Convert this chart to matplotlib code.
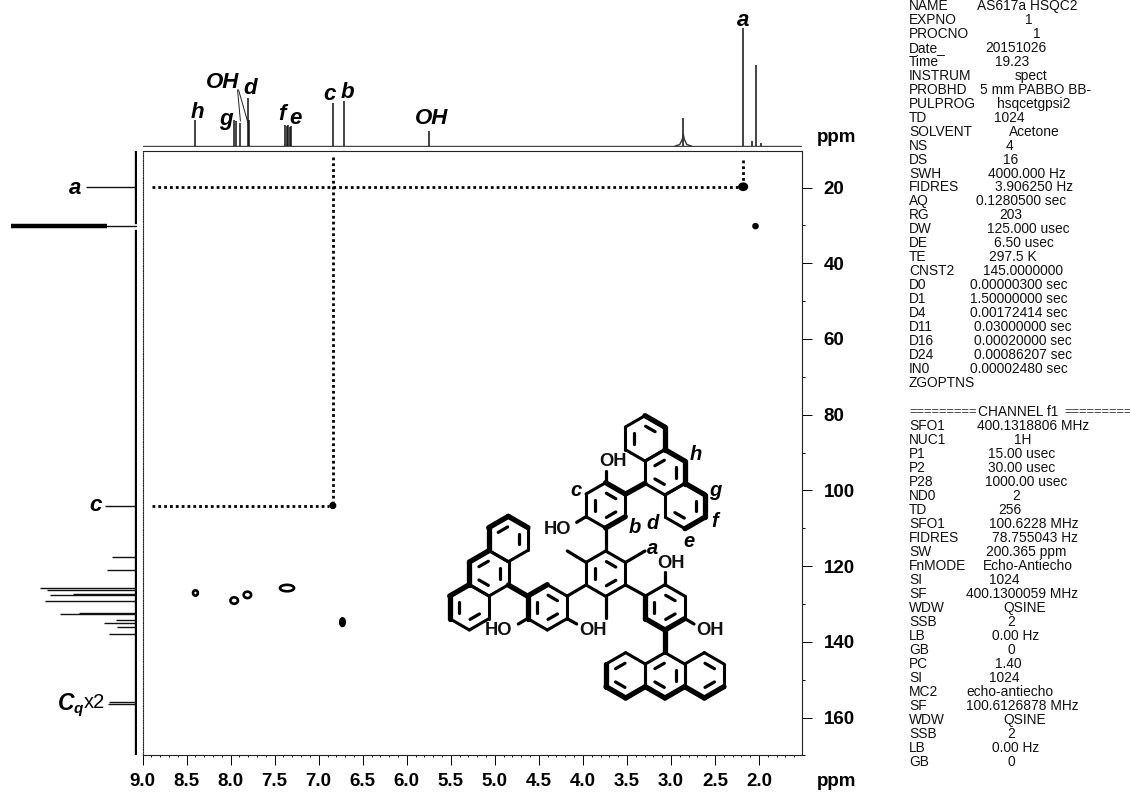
import numpy as np
import matplotlib
matplotlib.use("Agg")
import matplotlib.pyplot as plt
from matplotlib.patches import Ellipse
from matplotlib.ticker import MultipleLocator, FixedLocator

plt.rcParams['font.family'] = ['Liberation Sans', 'DejaVu Sans']

W, H = 1130, 792
# ---------- data ----------
h1_ppm = [8.405, 7.96, 7.94, 7.89, 7.80, 7.79, 7.38, 7.36, 7.35, 7.33, 7.31, 6.84, 6.71, 5.75, 2.86, 2.18, 2.08, 2.03, 1.98]
h1_int = [26, 26, 25, 23, 48, 26, 21, 20, 21, 19, 20, 43, 45, 15, 28, 118, 5, 81, 3]
broad_ppm = [2.95, 2.90, 2.87, 2.86, 2.85, 2.82, 2.77]
broad_int = [0, 1.5, 7, 12, 7, 1.5, 0]
c13_ppm = [19.8, 30.2, 104.0, 117.7, 121.0, 125.9, 126.3, 127.4, 127.6, 129.2, 132.3, 132.7, 134.2, 135.1, 136.1, 137.9, 155.8, 156.5]
c13_int = [51, 126, 32, 25, 30, 97, 90, 64, 87, 92, 58, 77, 21, 33, 20, 28, 28, 29]
xticks_major = [9.0, 8.5, 8.0, 7.5, 7.0, 6.5, 6.0, 5.5, 5.0, 4.5, 4.0, 3.5, 3.0, 2.5, 2.0]
yticks_major = [20, 40, 60, 80, 100, 120, 140, 160]
cross_f2 = [2.18, 2.04, 6.84, 8.40, 7.96, 7.81, 7.36, 6.73]
cross_f1 = [19.8, 30.2, 104.0, 127.1, 129.1, 127.6, 125.8, 134.8]
cross_w = [0.085, 0.045, 0.05, 0.055, 0.085, 0.085, 0.16, 0.05]
cross_h = [1.6, 1.0, 1.2, 1.4, 1.7, 1.7, 1.7, 2.0]
cross_filled = [True, True, True, False, False, False, False, True]

params_a = [
    ("NAME", "AS617a HSQC2", 977), ("EXPNO", "1", 1025), ("PROCNO", "1", 1033),
    ("Date_", "20151026", 985), ("Time", "19.23", 995), ("INSTRUM", "spect", 1015),
    ("PROBHD", "5 mm PABBO BB-", 980), ("PULPROG", "hsqcetgpsi2", 997), ("TD", "1024", 994),
    ("SOLVENT", "Acetone", 1009), ("NS", "4", 1006), ("DS", "16", 1003),
    ("SWH", "4000.000 Hz", 988), ("FIDRES", "3.906250 Hz", 995), ("AQ", "0.1280500 sec", 976),
    ("RG", "203", 999), ("DW", "125.000 usec", 987), ("DE", "6.50 usec", 994),
    ("TE", "297.5 K", 989), ("CNST2", "145.0000000", 983), ("D0", "0.00000300 sec", 970),
    ("D1", "1.50000000 sec", 970), ("D4", "0.00172414 sec", 970), ("D11", "0.03000000 sec", 974),
    ("D16", "0.00020000 sec", 974), ("D24", "0.00086207 sec", 974), ("IN0", "0.00002480 sec", 970),
    ("ZGOPTNS", "", 970)]
params_b = [
    ("SFO1", "400.1318806 MHz", 977), ("NUC1", "1H", 1014), ("P1", "15.00 usec", 988),
    ("P2", "30.00 usec", 988), ("P28", "1000.00 usec", 985), ("ND0", "2", 1012),
    ("TD", "256", 998), ("SFO1", "100.6228 MHz", 989), ("FIDRES", "78.755043 Hz", 992),
    ("SW", "200.365 ppm", 986), ("FnMODE", "Echo-Antiecho", 983), ("SI", "1024", 989),
    ("SF", "400.1300059 MHz", 966), ("WDW", "QSINE", 1003), ("SSB", "2", 1007),
    ("LB", "0.00 Hz", 992), ("GB", "0", 1007), ("PC", "1.40", 995), ("SI", "1024", 989),
    ("MC2", "echo-antiecho", 966), ("SF", "100.6126878 MHz", 966), ("WDW", "QSINE", 1003),
    ("SSB", "2", 1007), ("LB", "0.00 Hz", 992), ("GB", "0", 1007)]

# ---------- layout ----------
def add_axes(fig, l, t, r, b, **kw):
    return fig.add_axes([l / W, 1 - b / H, (r - l) / W, (b - t) / H], **kw)

fig = plt.figure(figsize=(W / 100, H / 100), dpi=100, facecolor='white')
XL, XR = 142.6, 802.0
YT, YB = 151.0, 755.4
xlim = (9.0, 9.0 - (XR - XL) / 88.06)
ylim = (170, 20 - (187.5 - YT) / 3.786)

ax = add_axes(fig, XL, YT, XR, YB)
ax.set_xlim(*xlim); ax.set_ylim(*ylim)
for s in ax.spines.values():
    s.set_linewidth(0.8); s.set_color('#222222')
ax.xaxis.set_major_locator(FixedLocator(xticks_major))
ax.xaxis.set_minor_locator(MultipleLocator(0.1))
ax.set_xticklabels([f"{v:.1f}" for v in xticks_major], fontweight='bold', fontsize=13.5)
ax.tick_params(axis='x', which='major', length=7.5, width=0.7, pad=5.5)
ax.tick_params(axis='x', which='minor', length=1.6, width=0.7)
ax.yaxis.tick_right()
ax.yaxis.set_major_locator(FixedLocator(yticks_major))
ax.yaxis.set_minor_locator(MultipleLocator(10))
ax.set_yticklabels([str(v) for v in yticks_major], fontweight='bold', fontsize=13.5)
ax.tick_params(axis='y', which='major', length=7.0, width=0.7, pad=8.5)
ax.tick_params(axis='y', which='minor', length=2.2, width=0.7)
ax.spines['left'].set_linestyle((0, (1, 1.2)))

# dotted correlation guides
dot = dict(color='black', lw=2.0, linestyle=(0, (1, 1.1)))
ax.plot([8.89, 2.24], [19.8, 19.8], **dot)
ax.plot([8.89, 6.88], [104.0, 104.0], **dot)
ax.plot([6.84, 6.84], [11.9, 103], **dot)
ax.plot([2.18, 2.18], [12.7, 19], **dot)

# cross peaks
for x, y, w, h, f in zip(cross_f2, cross_f1, cross_w, cross_h, cross_filled):
    ax.add_patch(Ellipse((x, y), w, h, fc='black' if f else 'white', ec='black', lw=1.9))

# 1D proton trace
ax1 = add_axes(fig, XL, 20, XR, 147)
ax1.set_xlim(*xlim); ax1.set_ylim(-1, 126); ax1.axis('off')
ax1.plot(xlim, [0, 0], color='#444444', lw=1.0)
ax1.vlines(h1_ppm, 0, h1_int, color='#111111', lw=1.1)
ax1.plot(broad_ppm, broad_int, color='#333333', lw=1.0)

# 1D carbon trace
ax2 = add_axes(fig, 0, YT, 136.5, YB)
ax2.set_xlim(136.5, 0); ax2.set_ylim(*ylim); ax2.axis('off')
ax2.plot([0.8, 0.8], [ylim[1], 29.0], color='black', lw=2.4)
ax2.plot([0.8, 0.8], [31.6, 170], color='black', lw=2.4)
ax2.hlines(c13_ppm, 0, c13_int, color='#111111', lw=1.0)
ax2.hlines([30.2], 30, 126, color='black', lw=3.2)

# overlay in pixel space for labels and structure
ov = add_axes(fig, 0, 0, W, H)
ov.set_xlim(0, W); ov.set_ylim(H, 0); ov.axis('off'); ov.patch.set_alpha(0)

lab = dict(fontweight='bold', fontstyle='italic', ha='center', va='center', fontsize=16, color='black')
top_labels = [("h", 197, 112), ("g", 226, 119), ("OH", 222.6, 82), ("d", 250, 89), ("f", 282, 115),
              ("e", 296, 118), ("c", 330, 94), ("b", 347, 93), ("OH", 432, 118), ("a", 743, 21)]
for t, x, y in top_labels:
    ov.text(x, y, t, **lab)
ov.plot([237.6, 240.4], [90, 121], color='#222222', lw=0.7)
ov.plot([238.6, 248], [90, 123], color='#222222', lw=0.7)
ov.text(836.6, 138, "ppm", fontweight='bold', fontsize=13.5, ha='center', va='center')
ov.text(836.6, 781, "ppm", fontweight='bold', fontsize=13.5, ha='center', va='center')
ov.text(75, 188, "a", **lab)
ov.text(95, 505.5, "c", **lab)
ov.text(58, 703, "C", fontweight='bold', fontstyle='italic', fontsize=16.5, ha='left', va='center')
ov.text(74, 709, "q", fontweight='bold', fontstyle='italic', fontsize=11, ha='left', va='center')
ov.text(84, 702, "x2", fontsize=14.5, ha='left', va='center')

# acquisition parameters
pf = dict(fontsize=9.9, va='center', ha='left', color='#111111')
for i, (k, v, x) in enumerate(params_a):
    y = 6 + 13.96 * i
    ov.text(909, y, k, **pf)
    if v:
        ov.text(x, y, v, **pf)
ov.text(978, 412, "CHANNEL f1", **pf)
ov.text(909, 412, "=========", fontsize=9.3, va='center', ha='left', color='#333333')
ov.text(1064, 412, "=========", fontsize=9.3, va='center', ha='left', color='#333333')
for i, (k, v, x) in enumerate(params_b):
    y = 426 + 14 * i
    ov.text(909, y, k, **pf)
    ov.text(x, y, v, **pf)

# structure: coordinates measured in the zoomed crop (origin 430,320, scale 3)
def P(x, y):
    return 430 + x / 3, 320 + y / 3

def seg(a, b, lw=2.3):
    (x0, y0), (x1, y1) = P(*a), P(*b)
    ov.plot([x0, x1], [y0, y1], color='black', lw=lw, solid_capstyle='round')

def ring(c, doubles=(), thick=()):
    R = 68.0
    ang = np.deg2rad(-90 + 60 * np.arange(6))
    vx = c[0] + R * np.cos(ang)
    vy = c[1] + R * np.sin(ang)
    for i in range(6):
        j = (i + 1) % 6
        seg((vx[i], vy[i]), (vx[j], vy[j]), 3.8 if i in thick else 2.2)
        if i in doubles:
            mx, my = (vx[i] + vx[j]) / 2, (vy[i] + vy[j]) / 2
            ix, iy = mx + (c[0] - mx) * 0.45, my + (c[1] - my) * 0.45
            dx, dy = (vx[j] - vx[i]) * 0.24, (vy[j] - vy[i]) * 0.24
            seg((ix - dx, iy - dy), (ix + dx, iy + dy), 2.3)

rings = [
    ((527, 761), (0, 2, 4), ()),
    ((527, 556), (0, 2, 4), (0, 2)),
    ((645, 355), (0, 4), (0, 1)),
    ((705, 457), (1, 3, 5), (0, 1)),
    ((765, 558), (1, 3), (0, 1, 2)),
    ((352, 862), (0, 2, 4), (4, 5)),
    ((177, 760), (1, 3, 5), (4, 5)),
    ((235, 657), (1, 5), (4, 5, 0)),
    ((118, 862), (2, 4), (4, 5)),
    ((705, 862), (0, 2, 4), (2, 3, 4)),
    ((705, 1066), (1, 3, 5), (2, 3)),
    ((587, 1066), (3, 5), (2, 3, 4)),
    ((823, 1066), (0, 2), (2, 3)),
]
for c, d, t in rings:
    ring(c, d, t)

bonds = [((527, 692), (527, 624), 2.3), ((587, 522), (645, 490), 3.8), ((468, 795), (412, 828), 2.3),
         ((292, 828), (235, 795), 3.8), ((587, 795), (647, 828), 2.3), ((705, 930), (705, 997), 3.8),
         ((527, 488), (527, 452), 2.3), ((468, 590), (440, 607), 2.3), ((292, 896), (265, 912), 2.3),
         ((412, 896), (440, 912), 2.3), ((705, 795), (705, 755), 2.3), ((765, 896), (792, 912), 2.3),
         ((468, 727), (412, 693), 2.3), ((587, 727), (645, 693), 2.3), ((527, 830), (527, 895), 2.3)]
for a, b, w in bonds:
    seg(a, b, w)

for t, x, y in [("OH", 548, 425), ("HO", 383, 630), ("HO", 207, 932), ("OH", 490, 932), ("OH", 723, 730), ("OH", 840, 932)]:
    px, py = P(x, y)
    ov.text(px, py, t, fontsize=13.2, ha='center', va='center', fontweight='bold', color='#111111')
mol_lab = dict(fontweight='bold', fontstyle='italic', ha='center', va='center', fontsize=14.5, color='black')
for t, x, y in [("c", 438, 512), ("b", 613, 622), ("d", 668, 610), ("h", 798, 405), ("g", 857, 510),
                ("f", 855, 605), ("e", 778, 665), ("a", 668, 686)]:
    px, py = P(x, y)
    ov.text(px, py, t, **mol_lab)

fig.savefig("out.png", dpi=100)
